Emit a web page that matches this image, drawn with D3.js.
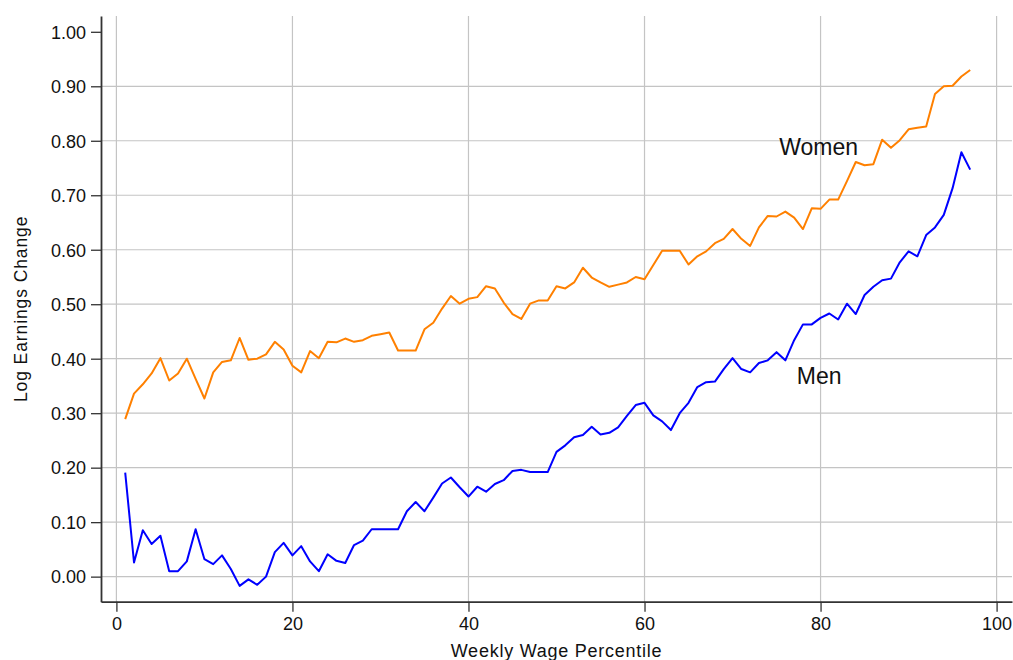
<!DOCTYPE html>
<html>
<head>
<meta charset="utf-8">
<script src="https://cdn.jsdelivr.net/npm/d3@7"></script>
<style>
  html, body { margin: 0; padding: 0; background: #fff; }
  svg { display: block; font-family: "Liberation Sans", Arial, sans-serif; }
</style>
</head>
<body>
<svg id="chart" width="1013" height="660"></svg>
<script>
// Weekly wage percentile (x) and log earnings change by sex
const percentiles = [
  1, 2, 3, 4, 5, 6, 7, 8, 9, 10, 11, 12, 13, 14, 15, 16, 17, 18, 19, 20,
  21, 22, 23, 24, 25, 26, 27, 28, 29, 30, 31, 32, 33, 34, 35, 36, 37, 38, 39, 40,
  41, 42, 43, 44, 45, 46, 47, 48, 49, 50, 51, 52, 53, 54, 55, 56, 57, 58, 59, 60,
  61, 62, 63, 64, 65, 66, 67, 68, 69, 70, 71, 72, 73, 74, 75, 76, 77, 78, 79, 80,
  81, 82, 83, 84, 85, 86, 87, 88, 89, 90, 91, 92, 93, 94, 95, 96, 97
];

const women = [
  0.289, 0.336, 0.353, 0.373, 0.401, 0.360, 0.373, 0.400, 0.363, 0.327,
  0.375, 0.394, 0.397, 0.438, 0.398, 0.400, 0.408, 0.431, 0.417, 0.387,
  0.375, 0.414, 0.401, 0.431, 0.430, 0.437, 0.431, 0.434, 0.442, 0.445,
  0.448, 0.415, 0.415, 0.415, 0.454, 0.466, 0.492, 0.515, 0.501, 0.510,
  0.513, 0.533, 0.529, 0.503, 0.482, 0.473, 0.501, 0.507, 0.507, 0.533,
  0.529, 0.540, 0.567, 0.549, 0.540, 0.532, 0.536, 0.540, 0.550, 0.546,
  0.572, 0.598, 0.598, 0.598, 0.573, 0.588, 0.597, 0.612, 0.620, 0.638,
  0.620, 0.607, 0.641, 0.662, 0.661, 0.670, 0.659, 0.638, 0.676, 0.675,
  0.692, 0.692, 0.726, 0.761, 0.755, 0.757, 0.802, 0.787, 0.801, 0.821,
  0.824, 0.826, 0.886, 0.900, 0.901, 0.918, 0.930
];

const men = [
  0.191, 0.026, 0.085, 0.060, 0.075, 0.010, 0.010, 0.028, 0.087, 0.032,
  0.023, 0.039, 0.014, -0.017, -0.005, -0.015, 0.000, 0.045, 0.062, 0.039,
  0.056, 0.028, 0.010, 0.041, 0.029, 0.025, 0.058, 0.066, 0.087, 0.087,
  0.087, 0.087, 0.120, 0.137, 0.120, 0.145, 0.171, 0.182, 0.164, 0.147,
  0.165, 0.156, 0.170, 0.177, 0.194, 0.196, 0.192, 0.192, 0.192, 0.229,
  0.241, 0.256, 0.260, 0.275, 0.261, 0.264, 0.274, 0.295, 0.315, 0.319,
  0.296, 0.285, 0.269, 0.300, 0.319, 0.348, 0.357, 0.358, 0.381, 0.401,
  0.381, 0.375, 0.392, 0.397, 0.412, 0.397, 0.434, 0.463, 0.463, 0.475,
  0.483, 0.472, 0.501, 0.482, 0.517, 0.532, 0.544, 0.547, 0.577, 0.597,
  0.588, 0.627, 0.641, 0.664, 0.713, 0.779, 0.747
];

const xTicks = [0, 20, 40, 60, 80, 100];
const yTicks = [0.0, 0.1, 0.2, 0.3, 0.4, 0.5, 0.6, 0.7, 0.8, 0.9, 1.0];
const yGrid = [0.0, 0.1, 0.2, 0.3, 0.4, 0.5, 0.6, 0.7, 0.8, 0.9];

// Series labels placed in data coordinates
const seriesLabels = [
  { text: "Women", x: 75.3, y: 0.774 },
  { text: "Men",   x: 77.3, y: 0.354 }
];

const svg = d3.select("#chart");
const plotLeft = 101, plotRight = 1012, plotTop = 16, plotBottom = 601.7;

const x = d3.scaleLinear().domain([-1.75, 101.75]).range([plotLeft, plotRight]);
const y = d3.scaleLinear().domain([-0.046, 1.029]).range([plotBottom, plotTop]);

// Grid
const grid = svg.append("g").attr("stroke", "#c4c4c4").attr("stroke-width", 1.2);
grid.selectAll("line.v").data(xTicks).join("line")
  .attr("class", "v")
  .attr("x1", d => x(d)).attr("x2", d => x(d))
  .attr("y1", plotTop).attr("y2", plotBottom);
grid.selectAll("line.h").data(yGrid).join("line")
  .attr("class", "h")
  .attr("x1", plotLeft).attr("x2", plotRight)
  .attr("y1", d => y(d)).attr("y2", d => y(d));

// Lines
const line = d3.line()
  .x((d, i) => x(percentiles[i]))
  .y(d => y(d));

svg.append("path").datum(women)
  .attr("fill", "none").attr("stroke", "#ff8000")
  .attr("stroke-width", 2).attr("stroke-linejoin", "round")
  .attr("d", line);

svg.append("path").datum(men)
  .attr("fill", "none").attr("stroke", "#0000ff")
  .attr("stroke-width", 2).attr("stroke-linejoin", "round")
  .attr("d", line);

// Axes
const yAxis = d3.axisLeft(y).tickValues(yTicks).tickFormat(d3.format(".2f"))
  .tickSize(10).tickPadding(5).tickSizeOuter(0);
const gy = svg.append("g").attr("transform", `translate(${plotLeft},0)`).call(yAxis);

const xAxis = d3.axisBottom(x).tickValues(xTicks).tickFormat(d3.format("d"))
  .tickSize(10).tickPadding(6).tickSizeOuter(0);
const gx = svg.append("g").attr("transform", `translate(0,${plotBottom})`).call(xAxis);

[gx, gy].forEach(g => {
  g.select(".domain").attr("stroke", "#333").attr("stroke-width", 1.8);
  g.selectAll(".tick line").attr("stroke", "#333").attr("stroke-width", 1.3);
  g.selectAll(".tick text").attr("fill", "#111")
    .style("font-size", "18px").style("font-family", "'Liberation Sans', Arial, sans-serif");
});
gy.selectAll(".tick text").attr("dy", "0.35em");

// Axis titles
svg.append("text")
  .attr("x", (plotLeft + plotRight) / 2).attr("y", 657)
  .attr("text-anchor", "middle")
  .style("font-size", "18px").style("letter-spacing", "0.75px")
  .attr("fill", "#111")
  .text("Weekly Wage Percentile");

svg.append("text")
  .attr("transform", `translate(27,${(plotTop + plotBottom) / 2}) rotate(-90)`)
  .attr("text-anchor", "middle")
  .style("font-size", "17.5px").style("letter-spacing", "0.9px")
  .attr("fill", "#111")
  .text("Log Earnings Change");

// Series labels
svg.selectAll("text.series").data(seriesLabels).join("text")
  .attr("class", "series")
  .attr("x", d => x(d.x)).attr("y", d => y(d.y))
  .style("font-size", "23px")
  .attr("fill", "#111")
  .text(d => d.text);
</script>
</body>
</html>
